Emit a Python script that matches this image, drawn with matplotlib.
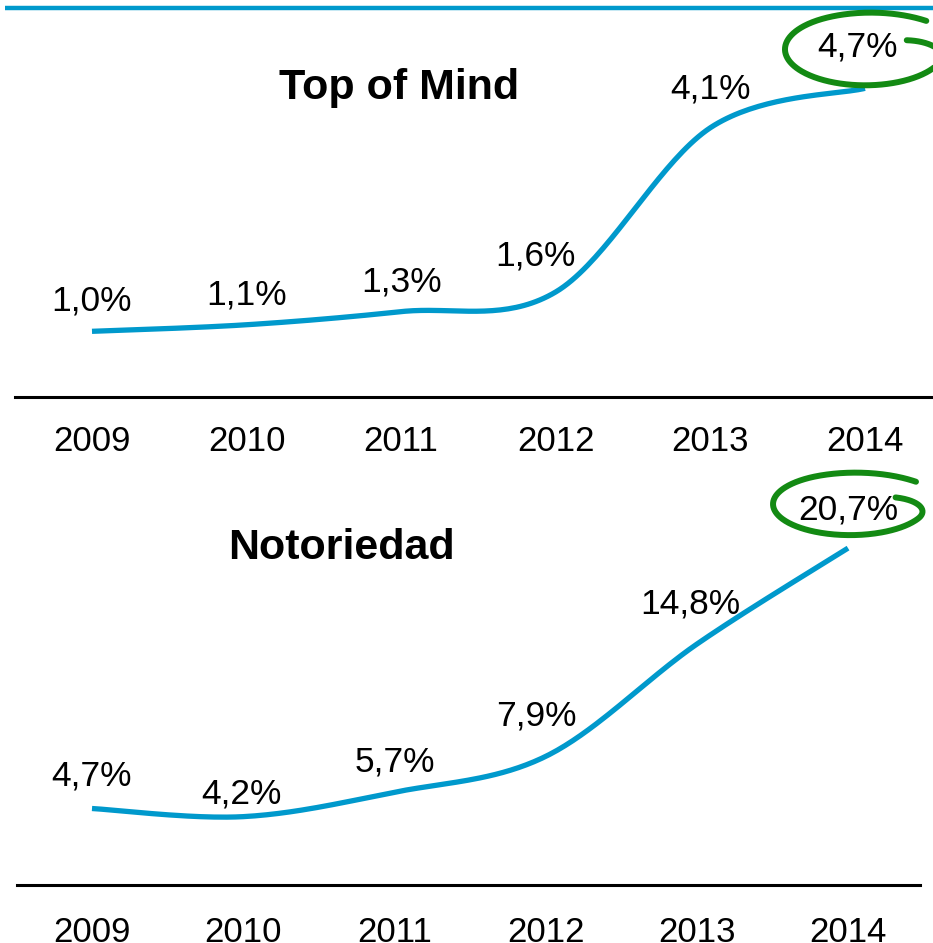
import numpy as np
import matplotlib
matplotlib.use("Agg")
import matplotlib.pyplot as plt

years = ["2009", "2010", "2011", "2012", "2013", "2014"]
top_values = [1.0, 1.1, 1.3, 1.6, 4.1, 4.7]
top_labels = ["1,0%", "1,1%", "1,3%", "1,6%", "4,1%", "4,7%"]
bottom_values = [4.7, 4.2, 5.7, 7.9, 14.8, 20.7]
bottom_labels = ["4,7%", "4,2%", "5,7%", "7,9%", "14,8%", "20,7%"]

W, H = 933, 943
BLUE = "#0099CC"
GREEN = "#138A13"
FONT = "Liberation Sans"

# label offsets (pixels, x right / y up) from each point
top_offsets = [(0, 30), (0, 30), (0, 30), (-20, 36), (0, 39), (-7, 41)]
bottom_offsets = [(0, 33), (-2, 23), (0, 30), (-9, 40), (-7, 40), (0, 38)]


def px_box(left, right, top, bottom):
    return [left / W, 1 - bottom / H, (right - left) / W, (bottom - top) / H]


def smooth(xs, ys, n=40):
    # excel-like smoothed line: catmull-rom as cubic bezier
    p = np.column_stack([xs, ys]).astype(float)
    ext = np.vstack([p[0], p, p[-1]])
    out = []
    t = np.linspace(0, 1, n)[:, None]
    for i in range(len(p) - 1):
        p0, p3 = ext[i + 1], ext[i + 2]
        c1 = p0 + (ext[i + 2] - ext[i]) / 6
        c2 = p3 - (ext[i + 3] - ext[i + 1]) / 6
        seg = ((1 - t) ** 3) * p0 + 3 * ((1 - t) ** 2) * t * c1 + 3 * (1 - t) * t ** 2 * c2 + t ** 3 * p3
        out.append(seg if i == 0 else seg[1:])
    out = np.vstack(out)
    return out[:, 0], out[:, 1]


def panel(box, xlim, ylim, values, labels, offsets, title, title_xy, pad):
    ax = fig.add_axes(px_box(*box))
    x = np.arange(len(values))
    sx, sy = smooth(x, values)
    ax.plot(sx, sy, color=BLUE, lw=3.8, solid_capstyle="butt", clip_on=False)
    for xi, v, lab, (dx, dy) in zip(x, values, labels, offsets):
        ax.annotate(lab, (xi, v), xytext=(dx * 0.72, dy * 0.72), textcoords="offset points",
                    ha="center", va="center", fontsize=25.5, family=FONT)
    ax.set_xlim(*xlim)
    ax.set_ylim(*ylim)
    for s in ["top", "left", "right"]:
        ax.spines[s].set_visible(False)
    ax.spines["bottom"].set_linewidth(2.2)
    ax.set_yticks([])
    ax.set_xticks(x)
    ax.set_xticklabels(years, fontsize=25, family=FONT)
    ax.tick_params(axis="x", length=0, pad=pad)
    ax.patch.set_alpha(0)
    fig.text(title_xy[0] / W, 1 - title_xy[1] / H, title, ha="center", va="center",
             fontsize=31, fontweight="bold", family=FONT)
    return ax


fig = plt.figure(figsize=(W / 100, H / 100), dpi=100)

ax1 = panel((15, 933, 20, 397), (-0.498, 5.44), (0, 5.74), top_values, top_labels,
            top_offsets, "Top of Mind", (399, 88), 20)
ax2 = panel((17, 920, 470, 885), (-0.496, 5.476), (0, 25.5), bottom_values, bottom_labels,
            bottom_offsets, "Notoriedad", (341, 548), 22)

# overlay for the decorations (pixel coords, y up)
ov = fig.add_axes([0, 0, 1, 1])
ov.set_xlim(0, W)
ov.set_ylim(0, H)
ov.axis("off")
ov.patch.set_alpha(0)
ov.plot([5, W], [H - 8, H - 8], color=BLUE, lw=3.2, solid_capstyle="butt")


def hand_circle(ax, vals, offset, rx, ry, t0, s0, t_end, s_end):
    cx, cy = ax.transData.transform((len(vals) - 1, vals[-1]))
    cx += offset[0]
    cy += offset[1]
    t1 = t_end - 2 * np.pi
    t = np.linspace(t0, t1, 400)
    f = (t0 - t) / (t0 - t1)
    grow = np.clip(f / 0.14, 0, 1)
    s = s0 + (1 - s0) * (1 - (1 - grow) ** 2)
    s += (s_end - 1) * np.clip((f - 0.78) / 0.22, 0, 1) ** 2
    ov.plot(cx + rx * s * np.cos(t), cy + ry * s * np.sin(t), color=GREEN, lw=4.3,
            solid_capstyle="round")


hand_circle(ax1, top_values, (0, 39), 80, 36, 0.45, 0.58, 0.8, 1.1)
hand_circle(ax2, bottom_values, (2, 44), 77, 31, 0.35, 0.63, 0.7, 1.12)

fig.savefig("out.png", dpi=100, facecolor="white")
